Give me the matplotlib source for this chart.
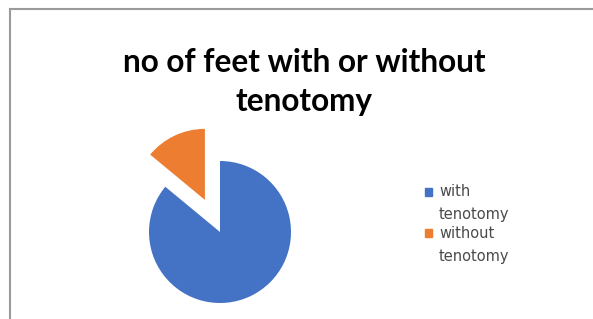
import matplotlib.pyplot as plt
from matplotlib.lines import Line2D
from matplotlib.patches import Rectangle

labels = ['with tenotomy', 'without tenotomy']
counts = [43, 7]
colors = ['#4472C4', '#ED7D31']
explode = [0, 0.5]

W, H = 593, 319
fig = plt.figure(figsize=(W / 100, H / 100), dpi=100)


def fx(px):
    return px / W


def fy(py):
    return 1 - py / H


# chart frame (only top and left edges visible in the crop)
fig.add_artist(Line2D([fx(9.5), 1], [fy(9), fy(9)], color='#9a9a9a', lw=1.5))
fig.add_artist(Line2D([fx(9.5), fx(9.5)], [0, fy(9)], color='#9a9a9a', lw=1.5))

fig.text(fx(304), fy(62), 'no of feet with or without', ha='center', va='center',
         fontsize=22.7, fontweight='bold', family='Lato', color='black')
fig.text(fx(304), fy(101), 'tenotomy', ha='center', va='center',
         fontsize=22.7, fontweight='bold', family='Lato', color='black')

# pie radius ~71 px, centre at (220, 232)
r = 71
ax = fig.add_axes([fx(220 - 2 * r), fy(232 + 2 * r), 4 * r / W, 4 * r / H])
ax.pie(counts, colors=colors, explode=explode, startangle=90, counterclock=False,
       radius=1, center=(0, 0), wedgeprops=dict(linewidth=0))
ax.set_xlim(-2, 2)
ax.set_ylim(-2, 2)
ax.set_aspect('equal')
ax.axis('off')

# legend, wrapped over two lines like the original
for i, (lab, c) in enumerate(zip(labels, colors)):
    y0 = 192 + i * 41
    fig.add_artist(Rectangle((fx(425), fy(y0 + 4)), 7 / W, 8 / H, color=c,
                             transform=fig.transFigure))
    first, second = lab.split(' ')
    fig.text(fx(439), fy(y0), first, ha='left', va='center', fontsize=10.5, color='#4a4a4a')
    fig.text(fx(439), fy(y0 + 23), second, ha='left', va='center', fontsize=10.5, color='#4a4a4a')

fig.savefig('out.png', dpi=100)
